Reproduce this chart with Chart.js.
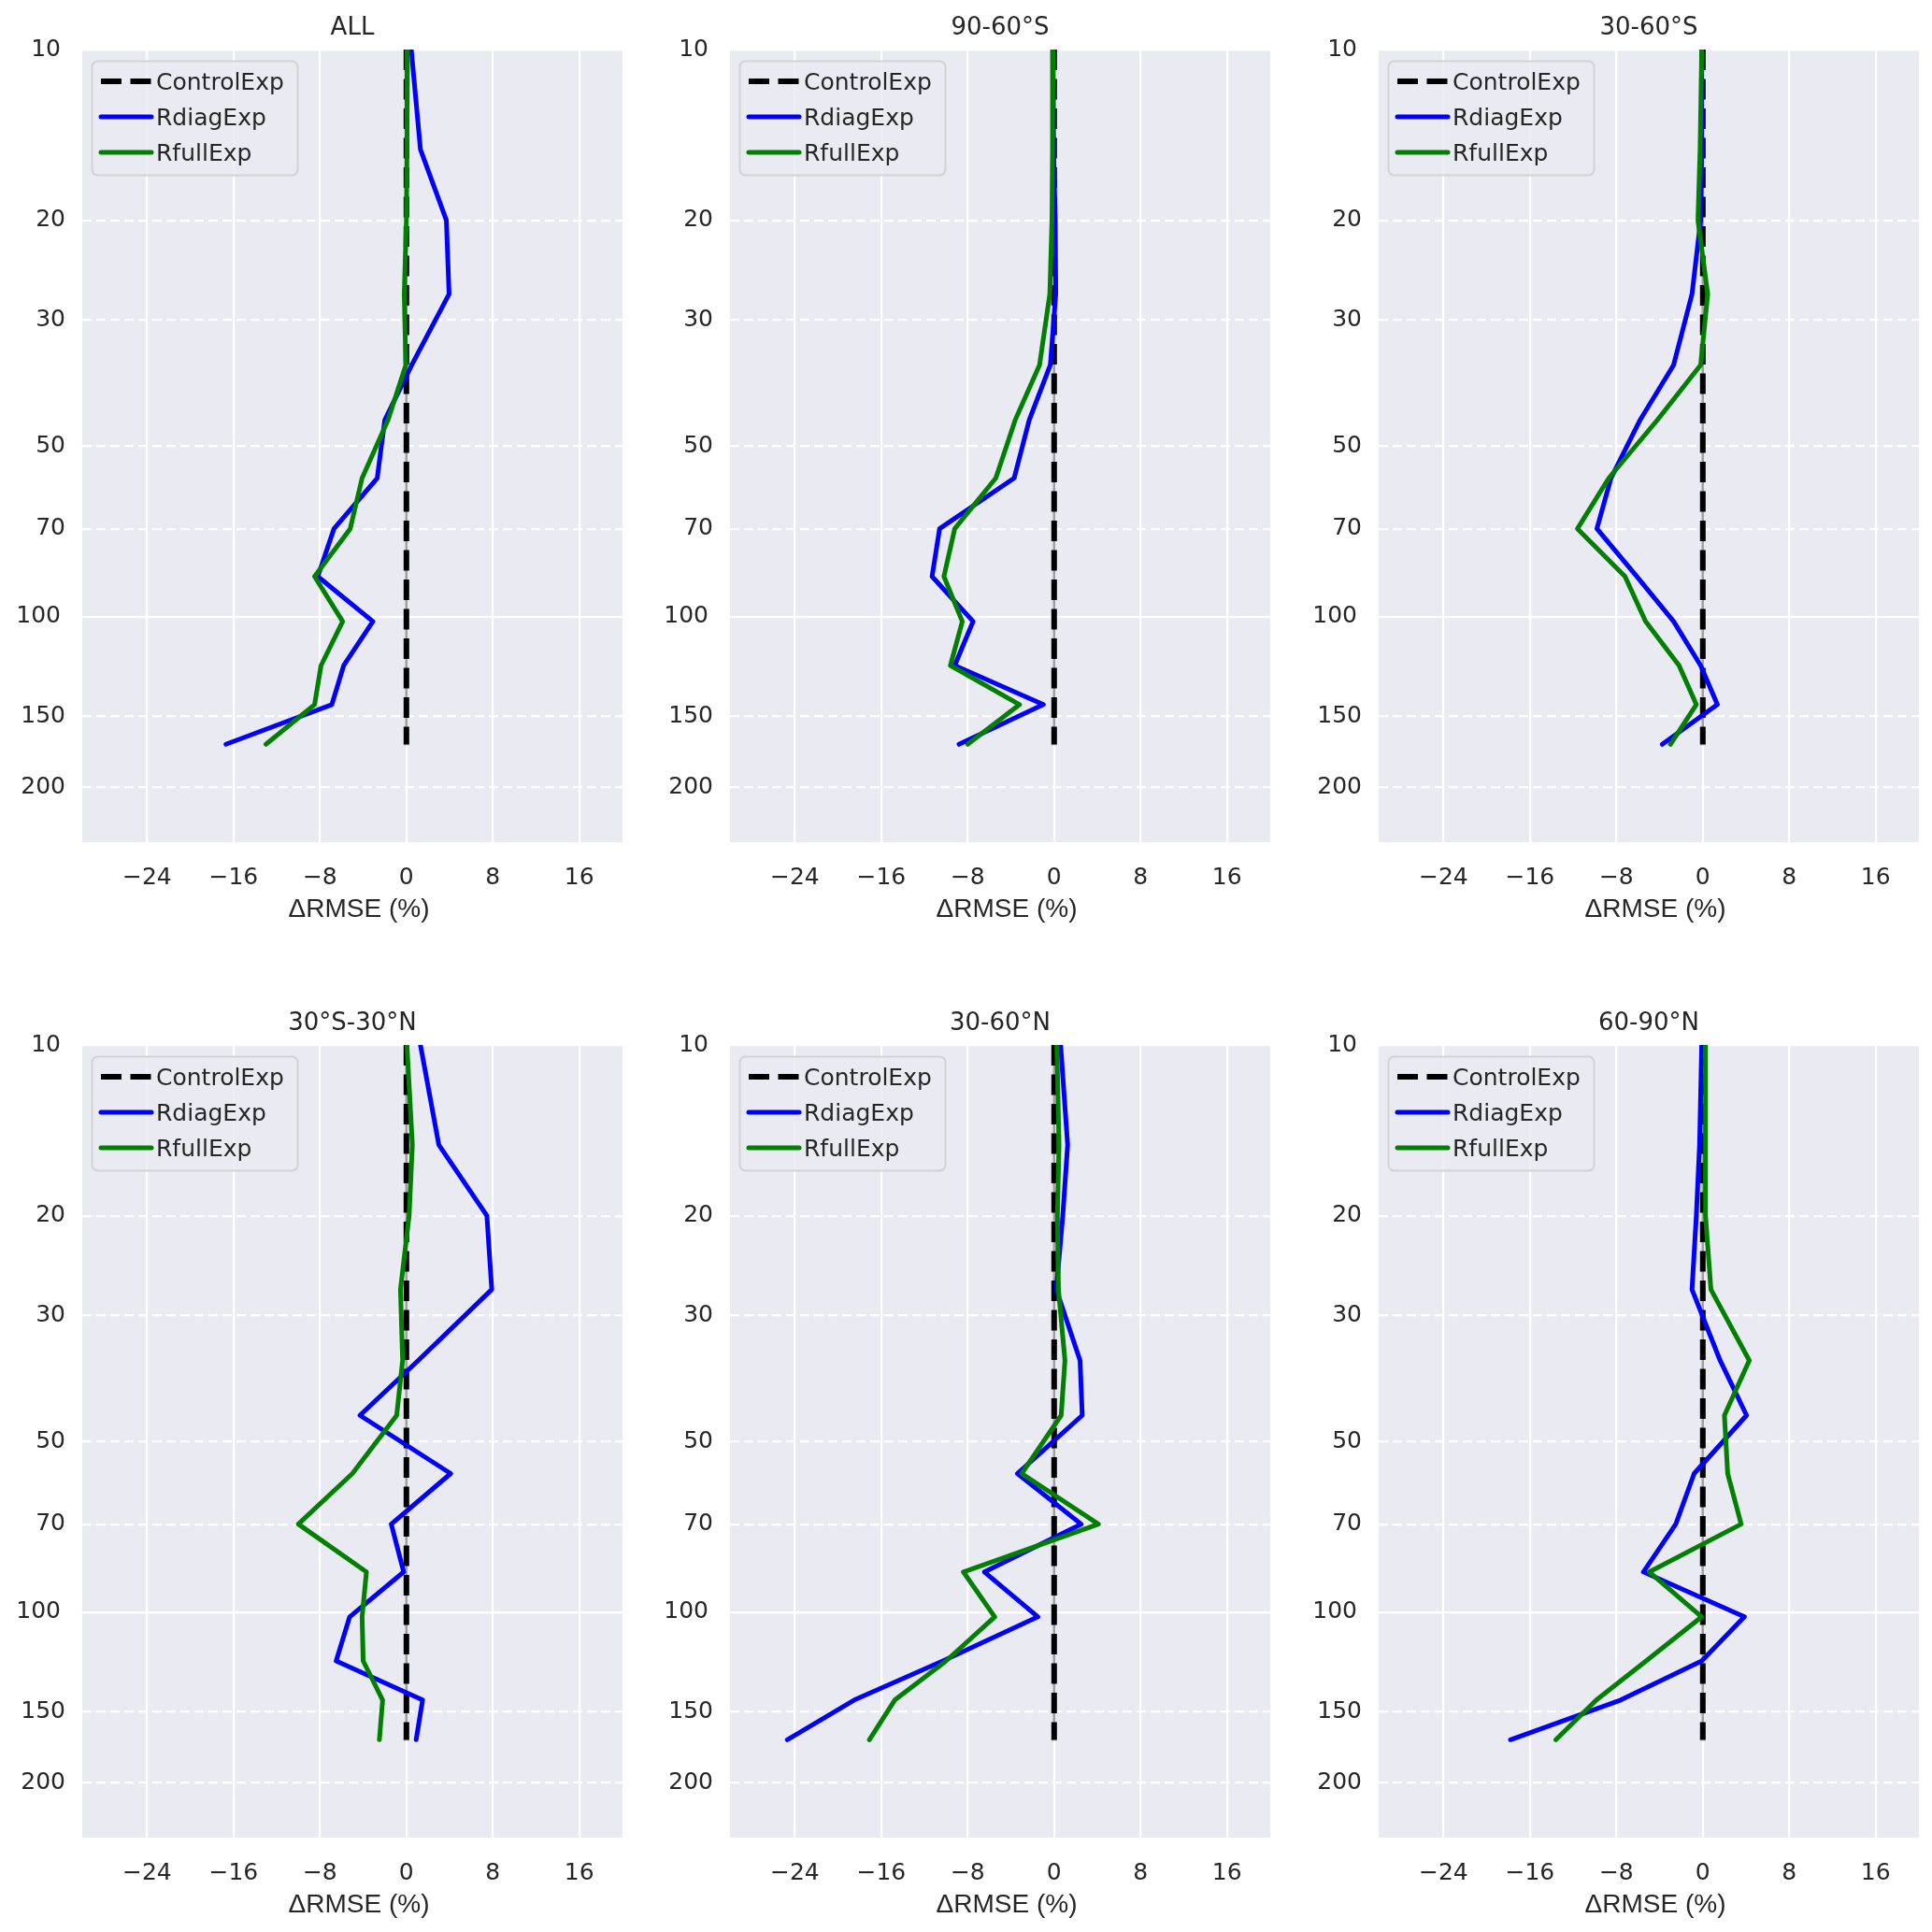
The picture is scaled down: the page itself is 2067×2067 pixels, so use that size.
<!DOCTYPE html>
<html>
<head>
<meta charset="utf-8">
<script src="https://cdn.jsdelivr.net/npm/chart.js@4/dist/chart.umd.min.js"></script>
<style>
  html, body { margin: 0; padding: 0; background: #fff; }
  #fig { position: relative; width: 2067px; height: 2067px; background: #fff; }
  #fig canvas { position: absolute; }
</style>
</head>
<body>
<div id="fig"></div>
<script>
// pressure levels (hPa) of the profile points
const levels = [10, 15, 20, 27, 36, 45, 57, 70, 85, 102, 122, 143, 168];

const xTicks = [-24, -16, -8, 0, 8, 16];
const yMajorTicks = [10, 100];
const yMinorTicks = [20, 30, 50, 70, 150, 200];
const yTicks = [10, 20, 30, 50, 70, 100, 150, 200];

const seriesNames = ['ControlExp', 'RdiagExp', 'RfullExp'];
const regionTitles = ['ALL', '90-60°S', '30-60°S', '30°S-30°N', '30-60°N', '60-90°N'];

const controlExp = [0, 0, 0, 0, 0, 0, 0, 0, 0, 0, 0, 0, 0];

const allRdiag = [0.45, 1.3, 3.7, 3.95, 0.5, -2.0, -2.7, -6.7, -8.2, -3.1, -5.8, -6.9, -16.7];
const allRfull = [0.1, 0.05, 0.0, -0.2, -0.05, -1.7, -4.1, -5.2, -8.5, -5.9, -7.9, -8.5, -13.0];

const s90Rdiag = [-0.1, -0.05, 0.1, 0.15, -0.35, -2.3, -3.7, -10.6, -11.3, -7.5, -9.2, -1.0, -8.8];
const s90Rfull = [-0.1, -0.15, -0.2, -0.4, -1.35, -3.6, -5.4, -9.2, -10.2, -8.5, -9.6, -3.2, -8.0];

const s60Rdiag = [-0.1, -0.1, -0.2, -1.0, -2.7, -5.8, -8.5, -9.8, -6.1, -2.7, -0.2, 1.35, -3.75];
const s60Rfull = [-0.1, -0.25, -0.45, 0.45, -0.2, -4.2, -8.7, -11.6, -7.2, -5.3, -2.2, -0.6, -3.0];

const tropRdiag = [1.3, 3.0, 7.45, 7.9, 1.1, -4.3, 4.1, -1.4, -0.25, -5.25, -6.5, 1.5, 0.9];
const tropRfull = [0.05, 0.55, 0.25, -0.55, -0.35, -0.9, -5.0, -10.0, -3.7, -4.1, -4.0, -2.2, -2.5];

const n60Rdiag = [0.6, 1.25, 0.8, 0.2, 2.4, 2.6, -3.4, 2.5, -6.45, -1.5, -10.3, -18.5, -24.7];
const n60Rfull = [0.25, 0.45, 0.3, 0.4, 1.0, 0.65, -3.0, 4.1, -8.4, -5.5, -10.0, -14.75, -17.1];

const n90Rdiag = [-0.1, -0.3, -0.6, -1.0, 1.6, 4.05, -0.8, -2.5, -5.5, 3.85, -0.1, -7.6, -17.8];
const n90Rfull = [0.25, 0.25, 0.25, 0.75, 4.3, 2.0, 2.3, 3.55, -4.95, -0.1, -5.25, -9.85, -13.6];

const panels = [
  { title: regionTitles[0], rdiag: allRdiag, rfull: allRfull, col: 0, row: 0 },
  { title: regionTitles[1], rdiag: s90Rdiag, rfull: s90Rfull, col: 1, row: 0 },
  { title: regionTitles[2], rdiag: s60Rdiag, rfull: s60Rfull, col: 2, row: 0 },
  { title: regionTitles[3], rdiag: tropRdiag, rfull: tropRfull, col: 0, row: 1 },
  { title: regionTitles[4], rdiag: n60Rdiag, rfull: n60Rfull, col: 1, row: 1 },
  { title: regionTitles[5], rdiag: n90Rdiag, rfull: n90Rfull, col: 2, row: 1 }
];

// layout (px)
const plotLefts = [88, 781, 1475];
const plotTops = [53, 1118];
const plotW = 578, plotH = 848;
const axisW = 88, topPad = 53, rightPad = 6, bottomH = 100;

const textColor = '#262626';
const tickFont = { family: 'DejaVu Sans', size: 25 };

Chart.defaults.font.family = 'DejaVu Sans';

const toPoints = vals => levels.map((p, i) => ({ x: vals[i], y: p }));

const panelDecor = {
  id: 'panelDecor',
  beforeDraw(chart) {
    const { ctx, chartArea: a } = chart;
    ctx.save();
    ctx.fillStyle = '#EAEAF2';
    ctx.fillRect(a.left, a.top, a.right - a.left, a.bottom - a.top);
    ctx.restore();
  },
  afterDraw(chart, args, opts) {
    const { ctx, chartArea: a } = chart;
    const cx = (a.left + a.right) / 2;
    ctx.save();
    ctx.fillStyle = textColor;
    ctx.textAlign = 'center';
    ctx.textBaseline = 'alphabetic';
    ctx.font = '26px "DejaVu Sans"';
    ctx.fillText(opts.title, cx, a.top - 16);
    ctx.font = '28px "Liberation Sans"';
    ctx.fillText('\u0394RMSE (%)', cx + 7, a.bottom + 80);

    // legend box
    const bx = a.left + 10.5, by = a.top + 12.5, bw = 220, bh = 122, r = 6;
    ctx.beginPath();
    ctx.moveTo(bx + r, by);
    ctx.arcTo(bx + bw, by, bx + bw, by + bh, r);
    ctx.arcTo(bx + bw, by + bh, bx, by + bh, r);
    ctx.arcTo(bx, by + bh, bx, by, r);
    ctx.arcTo(bx, by, bx + bw, by, r);
    ctx.closePath();
    ctx.fillStyle = 'rgba(234,234,242,0.8)';
    ctx.fill();
    ctx.strokeStyle = 'rgba(204,204,204,0.8)';
    ctx.lineWidth = 2;
    ctx.stroke();

    ctx.textAlign = 'left';
    ctx.font = '25px "DejaVu Sans"';
    seriesNames.forEach((name, i) => {
      const ds = chart.data.datasets.find(d => d.label === name);
      const y = a.top + 34 + i * 38;
      ctx.beginPath();
      ctx.setLineDash(ds.borderDash || []);
      ctx.lineCap = ds.borderCapStyle || 'butt';
      ctx.strokeStyle = ds.borderColor;
      ctx.lineWidth = ds.borderWidth;
      ctx.moveTo(a.left + 20, y);
      ctx.lineTo(a.left + 74, y);
      ctx.stroke();
      ctx.setLineDash([]);
      ctx.fillStyle = textColor;
      ctx.fillText(name, a.left + 79, y + 9);
    });
    ctx.restore();
  }
};

const fig = document.getElementById('fig');

panels.forEach(panel => {
  const canvas = document.createElement('canvas');
  const w = axisW + plotW + rightPad;
  const h = topPad + plotH + bottomH;
  canvas.width = w;
  canvas.height = h;
  canvas.style.width = w + 'px';
  canvas.style.height = h + 'px';
  canvas.style.left = (plotLefts[panel.col] - axisW) + 'px';
  canvas.style.top = (plotTops[panel.row] - topPad) + 'px';
  fig.appendChild(canvas);

  new Chart(canvas.getContext('2d'), {
    type: 'line',
    data: {
      datasets: [
        {
          label: 'controlSpread',
          data: toPoints(controlExp),
          borderColor: 'rgba(128,128,128,0.75)',
          borderWidth: 2.5,
          pointRadius: ctx => ctx.dataIndex === levels.length - 1 ? 3 : 0,
          pointStyle: 'line',
          pointBorderColor: 'rgba(128,128,128,0.9)',
          pointBorderWidth: 2,
          order: 3
        },
        {
          label: seriesNames[0],
          data: toPoints(controlExp),
          borderColor: '#000000',
          borderWidth: 6,
          borderDash: [22, 9.5],
          borderCapStyle: 'butt',
          pointRadius: 0,
          order: 2
        },
        {
          label: seriesNames[1],
          data: toPoints(panel.rdiag),
          borderColor: '#0000ff',
          borderWidth: 5,
          borderCapStyle: 'round',
          borderJoinStyle: 'round',
          pointRadius: 0,
          order: 1
        },
        {
          label: seriesNames[2],
          data: toPoints(panel.rfull),
          borderColor: '#008000',
          borderWidth: 5,
          borderCapStyle: 'round',
          borderJoinStyle: 'round',
          pointRadius: 0,
          order: 0
        }
      ]
    },
    options: {
      indexAxis: 'y',
      responsive: false,
      animation: false,
      events: [],
      layout: { padding: { top: topPad, right: rightPad, bottom: 0, left: 0 } },
      elements: { line: { tension: 0 } },
      plugins: {
        legend: { display: false },
        tooltip: { enabled: false },
        panelDecor: { title: panel.title }
      },
      scales: {
        x: {
          type: 'linear',
          position: 'bottom',
          min: -30,
          max: 20,
          afterBuildTicks: s => { s.ticks = xTicks.map(v => ({ value: v })); },
          afterFit: s => { s.height = bottomH; },
          grid: { color: '#ffffff', lineWidth: 2.2, drawTicks: false },
          border: { display: false },
          ticks: {
            padding: 23,
            color: textColor,
            font: tickFont,
            maxRotation: 0,
            autoSkip: false,
            callback: v => (v < 0 ? '\u2212' + Math.abs(v) : String(v))
          }
        },
        y: {
          type: 'logarithmic',
          position: 'left',
          weight: 1,
          min: 10,
          max: 250,
          reverse: true,
          afterBuildTicks: s => { s.ticks = yTicks.map(v => ({ value: v })); },
          afterFit: s => { s.width = axisW; },
          grid: {
            color: ctx => (ctx.tick && yMajorTicks.includes(ctx.tick.value) ? '#ffffff' : 'rgba(255,255,255,0)'),
            lineWidth: 2.2,
            drawTicks: false
          },
          border: { display: false },
          ticks: {
            padding: 18,
            color: textColor,
            font: tickFont,
            autoSkip: false,
            callback: v => (yMajorTicks.includes(v) ? v + '\u2009' : String(v))
          }
        },
        y2: {
          type: 'logarithmic',
          position: 'left',
          weight: 0,
          min: 10,
          max: 250,
          reverse: true,
          afterBuildTicks: s => { s.ticks = yMinorTicks.map(v => ({ value: v })); },
          afterFit: s => { s.width = 0; },
          grid: { color: '#ffffff', lineWidth: 2.2, drawTicks: false },
          border: { display: false, dash: [10, 5] },
          ticks: { display: false }
        }
      }
    },
    plugins: [panelDecor]
  });
});
</script>
</body>
</html>
